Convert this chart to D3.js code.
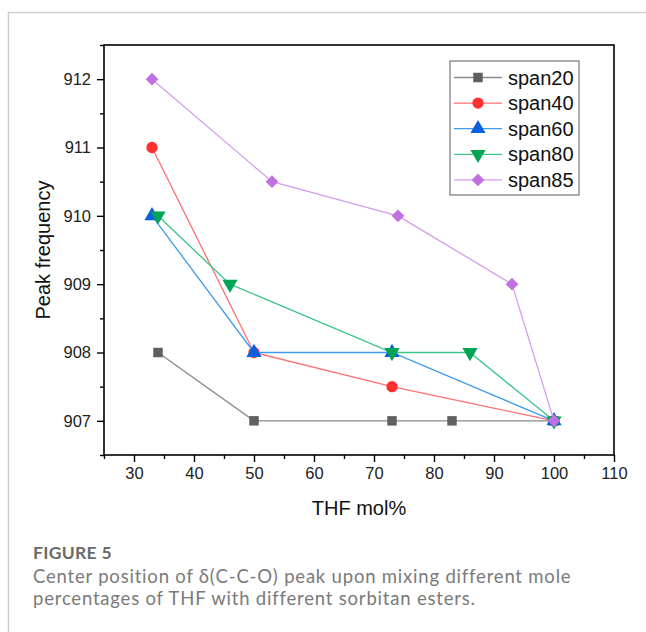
<!DOCTYPE html>
<html lang="en">
<head>
<meta charset="UTF-8">
<title>Figure 5</title>
<script src="https://d3js.org/d3.v7.min.js"></script>
<style>
  body { margin: 0; background: #fff; }
</style>
</head>
<body>
<div id="chart"></div>
<script>
// data
const seriesNames = ["span20", "span40", "span60", "span80", "span85"];
const span20 = [[34, 908], [50, 907], [73, 907], [83, 907], [100, 907]];
const span40 = [[33, 911], [50, 908], [73, 907.5], [100, 907]];
const span60 = [[33, 910], [50, 908], [73, 908], [100, 907]];
const span80 = [[34, 910], [46, 909], [73, 908], [86, 908], [100, 907]];
const span85 = [[33, 912], [53, 910.5], [74, 910], [93, 909], [100, 907]];
const xTicks = [30, 40, 50, 60, 70, 80, 90, 100, 110];
const yTicks = [907, 908, 909, 910, 911, 912];

const width = 646, height = 632;
const plot = { left: 104, right: 614, top: 45, bottom: 455 };

const svg = d3.select("#chart").append("svg")
    .attr("width", width)
    .attr("height", height);

// card border (top + left)
svg.append("path")
    .attr("d", "M8.5,632 V12.5 H646")
    .attr("fill", "none")
    .attr("stroke", "#d0d0d0")
    .attr("stroke-width", 1.5);

const x = d3.scaleLinear().domain([25, 110]).range([plot.left, plot.right]);
const y = d3.scaleLinear().domain([906.5, 912.5]).range([plot.bottom, plot.top]);

const axisFont = "'Liberation Sans', Arial, sans-serif";

// frame
svg.append("rect")
    .attr("x", plot.left)
    .attr("y", plot.top)
    .attr("width", plot.right - plot.left)
    .attr("height", plot.bottom - plot.top)
    .attr("fill", "none")
    .attr("stroke", "#000")
    .attr("stroke-width", 1.6);

// x axis
svg.append("g")
    .attr("transform", "translate(0," + plot.bottom + ")")
    .call(d3.axisBottom(x).tickValues(xTicks).tickSize(7).tickPadding(5).tickFormat(d3.format("d")));
svg.append("g")
    .attr("transform", "translate(0," + plot.bottom + ")")
    .call(d3.axisBottom(x).tickValues(d3.range(25, 111, 10)).tickSize(4).tickFormat(""));

// y axis
svg.append("g")
    .attr("transform", "translate(" + plot.left + ",0)")
    .call(d3.axisLeft(y).tickValues(yTicks).tickSize(7).tickPadding(6).tickFormat(d3.format("d")));
svg.append("g")
    .attr("transform", "translate(" + plot.left + ",0)")
    .call(d3.axisLeft(y).tickValues(d3.range(906.5, 912.6, 1)).tickSize(4).tickFormat(""));

svg.selectAll(".domain").remove();
svg.selectAll(".tick line").attr("stroke", "#000").attr("stroke-width", 1.4);
svg.selectAll(".tick text")
    .attr("fill", "#222")
    .attr("font-family", axisFont)
    .attr("font-size", 16.5)
    .style("font-family", axisFont)
    .style("font-size", "16.5px");

// axis titles
svg.append("text")
    .attr("x", (plot.left + plot.right) / 2)
    .attr("y", 515)
    .attr("text-anchor", "middle")
    .style("font-family", axisFont)
    .style("font-size", "20px")
    .attr("fill", "#111")
    .text("THF mol%");

svg.append("text")
    .attr("transform", "translate(50," + (plot.top + plot.bottom) / 2 + ") rotate(-90)")
    .attr("text-anchor", "middle")
    .style("font-family", axisFont)
    .style("font-size", "20px")
    .attr("fill", "#111")
    .text("Peak frequency");

// series styles
const allData = [span20, span40, span60, span80, span85];
const lineColors = ["#8a8a8a", "#ff7070", "#3f9cf0", "#3cc48a", "#d49cf0"];
const markColors = ["#606060", "#ff3030", "#0a5fdc", "#00a455", "#c070e0"];
const symbols = [
    d3.symbol().type(d3.symbolSquare).size(90),
    d3.symbol().type(d3.symbolCircle).size(100),
    d3.symbol().type(d3.symbolTriangle).size(100),
    d3.symbol().type(d3.symbolTriangle).size(100),
    d3.symbol().type(d3.symbolSquare).size(80)
];
const rotations = [0, 0, 0, 180, 45];

const line = d3.line().x(d => x(d[0])).y(d => y(d[1]));

allData.forEach((data, i) => {
    svg.append("path")
        .datum(data)
        .attr("d", line)
        .attr("fill", "none")
        .attr("stroke", lineColors[i])
        .attr("stroke-width", 1.3);
    svg.selectAll(".m" + i)
        .data(data)
        .enter().append("path")
        .attr("class", "m" + i)
        .attr("d", symbols[i])
        .attr("transform", d => "translate(" + x(d[0]) + "," + y(d[1]) + ") rotate(" + rotations[i] + ")")
        .attr("fill", markColors[i]);
});

// legend
const legend = svg.append("g").attr("transform", "translate(450,61)");
legend.append("rect")
    .attr("width", 129)
    .attr("height", 134)
    .attr("fill", "#fff")
    .attr("stroke", "#777")
    .attr("stroke-width", 1.2);

seriesNames.forEach((name, i) => {
    const g = legend.append("g").attr("transform", "translate(0," + (16.5 + i * 25.6) + ")");
    g.append("line")
        .attr("x1", 4).attr("x2", 52)
        .attr("stroke", lineColors[i])
        .attr("stroke-width", 1.3);
    g.append("path")
        .attr("d", symbols[i])
        .attr("transform", "translate(28,0) rotate(" + rotations[i] + ")")
        .attr("fill", markColors[i]);
    g.append("text")
        .attr("x", 58)
        .attr("y", 7)
        .style("font-family", axisFont)
        .style("font-size", "20px")
        .attr("fill", "#111")
        .text(name);
});

// caption
svg.append("text")
    .attr("x", 33).attr("y", 559)
    .style("font-family", "Lato, sans-serif")
    .style("font-size", "17.5px")
    .style("font-weight", "700")
    .style("letter-spacing", "0.3px")
    .attr("fill", "#6a6a6a")
    .text("FIGURE 5");
const captionLines = [
    "Center position of δ(C-C-O) peak upon mixing different mole",
    "percentages of THF with different sorbitan esters."
];
svg.selectAll(".cap")
    .data(captionLines)
    .enter().append("text")
    .attr("class", "cap")
    .attr("x", 33)
    .attr("y", (d, i) => 583 + i * 22)
    .style("font-family", "Lato, sans-serif")
    .style("font-size", "18.5px")
    .style("letter-spacing", "0.8px")
    .attr("fill", "#7a7a7a")
    .text(d => d);
</script>
</body>
</html>
